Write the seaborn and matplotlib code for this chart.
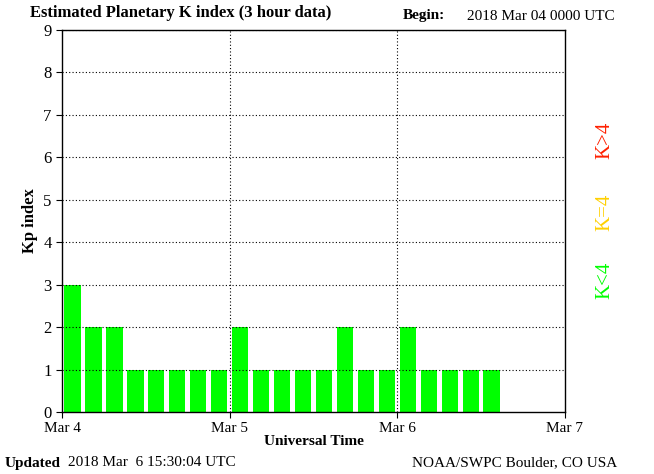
import matplotlib
matplotlib.use("Agg")
import matplotlib.pyplot as plt
import pandas as pd
import seaborn as sns

kp_values = [3, 2, 2, 1, 1, 1, 1, 1,
             2, 1, 1, 1, 1, 2, 1, 1,
             2, 1, 1, 1, 1]
day_labels = ["Mar 4", "Mar 5", "Mar 6", "Mar 7"]
y_ticks = list(range(0, 10))

df = pd.DataFrame({
    "hour": [3 * i + 1.5 for i in range(len(kp_values))],
    "kp": kp_values,
})

plt.rcParams["font.family"] = "Liberation Serif"
fig = plt.figure(figsize=(6.54, 4.74), dpi=100)
ax = fig.add_axes([62 / 654, 62 / 474, 503 / 654, 382 / 474])

sns.barplot(data=df, x="hour", y="kp", native_scale=True, color="#00ff00",
            saturation=1, width=0.78, ax=ax)

ax.set_xlim(0, 72)
ax.set_ylim(0, 9)
ax.set_xticks([0, 24, 48, 72])
ax.set_xticklabels(day_labels, fontsize=11)
ax.set_yticks(y_ticks)
ax.set_yticklabels([str(t) for t in y_ticks], fontsize=12)
for v in [24, 48]:
    ax.axvline(v, color="black", linestyle=(0, (1, 2)), linewidth=0.8)
for t in y_ticks[1:]:
    ax.axhline(t, color="black", linestyle=(0, (1, 2)), linewidth=0.8)
ax.set_xlabel("Universal Time", fontsize=11, fontweight="bold", labelpad=0)
ax.set_ylabel("Kp index", fontsize=12, fontweight="bold")
for s in ax.spines.values():
    s.set_color("black")
    s.set_linewidth(1)
ax.tick_params(direction="out", length=4)

fig.text(30 / 654, 1 - 13 / 474, "Estimated Planetary K index (3 hour data)",
         fontsize=12, fontweight="bold", va="center")
fig.text(403 / 654, 1 - 16 / 474, "Begin:", fontsize=11, fontweight="bold", va="center")
fig.text(467 / 654, 1 - 16 / 474, "2018 Mar 04 0000 UTC", fontsize=11, va="center")
fig.text(5 / 654, 1 - 463 / 474, "Updated", fontsize=11, fontweight="bold", va="center")
fig.text(68 / 654, 1 - 463 / 474, "2018 Mar  6 15:30:04 UTC", fontsize=11, va="center")
fig.text(412 / 654, 1 - 463 / 474, "NOAA/SWPC Boulder, CO USA", fontsize=11,
         va="center")
fig.text(605 / 654, 1 - 140 / 474, "K>4", color="#ff2000", fontsize=15,
         rotation=90, ha="center", va="center")
fig.text(605 / 654, 1 - 212 / 474, "K=4", color="#ffd000", fontsize=15,
         rotation=90, ha="center", va="center")
fig.text(605 / 654, 1 - 280 / 474, "K<4", color="#00ff00", fontsize=15,
         rotation=90, ha="center", va="center")

fig.savefig("out.png", dpi=100)
